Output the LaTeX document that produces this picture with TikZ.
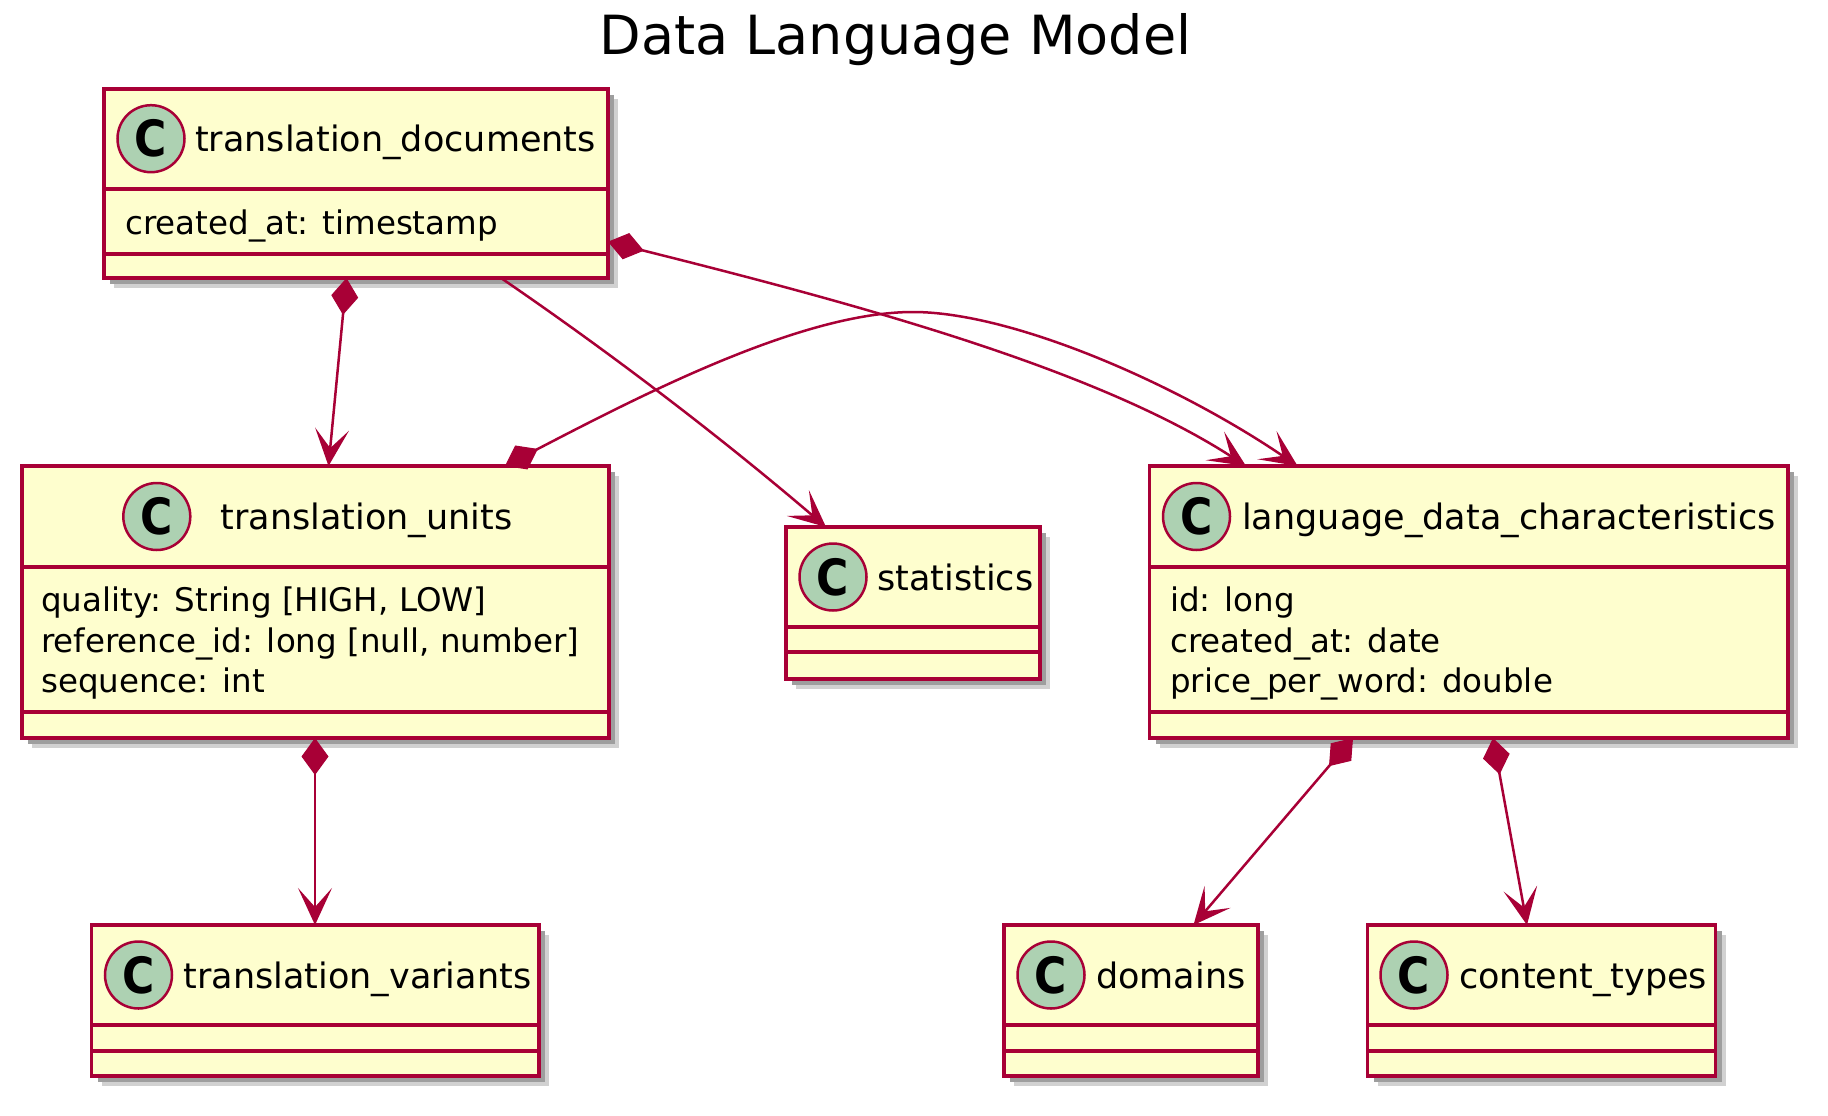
\documentclass[tikz,border=0pt]{standalone}
\usepackage{fontspec}
\setmainfont{DejaVu Sans}
\usetikzlibrary{arrows.meta,shadows}
\definecolor{umlred}{HTML}{A80036}
\definecolor{umlfill}{HTML}{FEFECE}
\definecolor{umlspot}{HTML}{ADD1B2}

\begin{document}
\begin{tikzpicture}[x=1pt, y=-1pt,
	classbox/.style={draw=umlred, fill=umlfill, line width=3.8pt, anchor=north west, inner sep=0pt, outer sep=0pt,
	  drop shadow={shadow xshift=10pt, shadow yshift=-10pt, fill=black!18, opacity=1},
	  drop shadow={shadow xshift=6pt, shadow yshift=-6pt, fill=black!38, opacity=1}},
	part/.style={draw=umlred, line width=3.8pt},
	spot/.style={circle, draw=umlred, fill=umlspot, line width=2.5pt, minimum size=67pt, inner sep=0pt,
	  font=\fontsize{50}{50}\bfseries\selectfont},
	cname/.style={anchor=base west, inner sep=0pt, font=\fontsize{35}{40}\selectfont},
	attr/.style={anchor=base west, inner sep=0pt, font=\fontsize{32.5}{40.7}\selectfont},
	link/.style={draw=umlred, line width=2.5pt},
	comp/.style={link, {Diamond[length=37pt, width=27pt, line width=1pt]}-{Stealth[length=37pt, width=34pt, inset=19pt, line width=1.5pt]}},
	assoc/.style={link, -{Stealth[length=37pt, width=34pt, inset=19pt, line width=1.5pt]}}]
	\fill[white] (0,0) rectangle (1828,1116);
	\useasboundingbox (0,0) rectangle (1828,1116);
	\node[anchor=base, inner sep=0pt, font=\fontsize{54}{60}\selectfont] (title) at (895.5,55) {Data Language Model};

	% translation_documents
	\node[classbox, minimum width=504pt, minimum height=189.3pt] (docs) at (104,88.7) {};
	\draw[part] (104,188.7) -- ++(504,0);
	\draw[part] (104,253.7) -- ++(504,0);
	\node[spot] (docs-c) at (151,138.7) {\scalebox{0.88}[1]{C}};
	\node[cname] (docs-n) at (195,151.7) {translation\_documents};
	\node[attr] at (125,234) {created\_at: timestamp};

	% translation_units
	\node[classbox, minimum width=587.4pt, minimum height=272pt] (units) at (21.6,466) {};
	\draw[part] (21.6,567) -- ++(587.4,0);
	\draw[part] (21.6,712) -- ++(587.4,0);
	\node[spot] (units-c) at (156.8,516.5) {\scalebox{0.88}[1]{C}};
	\node[cname] (units-n) at (220.5,529.5) {translation\_units};
	\node[attr] at (41,611) {quality: String [HIGH, LOW]};
	\node[attr] at (41,652) {reference\_id: long [null, number]};
	\node[attr] at (41,692.5) {sequence: int};

	% statistics
	\node[classbox, minimum width=254pt, minimum height=152pt] (stats) at (786,527) {};
	\draw[part] (786,627) -- ++(254,0);
	\draw[part] (786,652) -- ++(254,0);
	\node[spot] (stats-c) at (833,577) {\scalebox{0.88}[1]{C}};
	\node[cname] (stats-n) at (877,590) {statistics};

	% language_data_characteristics
	\node[classbox, minimum width=638.5pt, minimum height=272pt] (ldc) at (1149.5,466) {};
	\draw[part] (1149.5,567) -- ++(638.5,0);
	\draw[part] (1149.5,712) -- ++(638.5,0);
	\node[spot] (ldc-c) at (1196.5,516.5) {\scalebox{0.88}[1]{C}};
	\node[cname] (ldc-n) at (1242,529.5) {language\_data\_characteristics};
	\node[attr] at (1170,611) {id: long};
	\node[attr] at (1170,652) {created\_at: date};
	\node[attr] at (1170,692.5) {price\_per\_word: double};

	% translation_variants
	\node[classbox, minimum width=447.5pt, minimum height=151pt] (variants) at (91.5,925) {};
	\draw[part] (91.5,1025) -- ++(447.5,0);
	\draw[part] (91.5,1051) -- ++(447.5,0);
	\node[spot] (variants-c) at (138.5,975) {\scalebox{0.88}[1]{C}};
	\node[cname] (variants-n) at (183.5,988) {translation\_variants};

	% domains
	\node[classbox, minimum width=254pt, minimum height=151pt] (domains) at (1004,925) {};
	\draw[part] (1004,1025) -- ++(254,0);
	\draw[part] (1004,1051) -- ++(254,0);
	\node[spot] (domains-c) at (1051,975) {\scalebox{0.88}[1]{C}};
	\node[cname] (domains-n) at (1096,988) {domains};

	% content_types
	\node[classbox, minimum width=348pt, minimum height=151pt] (types) at (1367.5,925) {};
	\draw[part] (1367.5,1025) -- ++(348,0);
	\draw[part] (1367.5,1051) -- ++(348,0);
	\node[spot] (types-c) at (1414,975) {\scalebox{0.88}[1]{C}};
	\node[cname] (types-n) at (1459,988) {content\_types};

	% links
	\draw[comp] (docs.south -| 346.5,0) -- (units.north -| 328.5,0);
	\draw[assoc] (docs.south -| 501,0) .. controls (614.7,355.8) and (722.1,438.4) .. (stats.north -| 826,0);
	\draw[comp] (docs.east |- 0,241.7) .. controls (857.7,304.2) and (1095,368.5) .. (ldc.north -| 1246,0);
	\draw[comp] (units.north -| 505,0) .. controls (645,393.2) and (803,312) .. (913,312)
	  .. controls (1013,312) and (1177.6,384.4) .. (ldc.north -| 1297.6,0);
	\draw[comp] (units.south -| 315,0) -- (variants.north -| 315,0);
	\draw[comp] (ldc.south -| 1353,0) -- (domains.north -| 1193.5,0);
	\draw[comp] (ldc.south -| 1493,0) -- (types.north -| 1527,0);
\end{tikzpicture}
\end{document}
